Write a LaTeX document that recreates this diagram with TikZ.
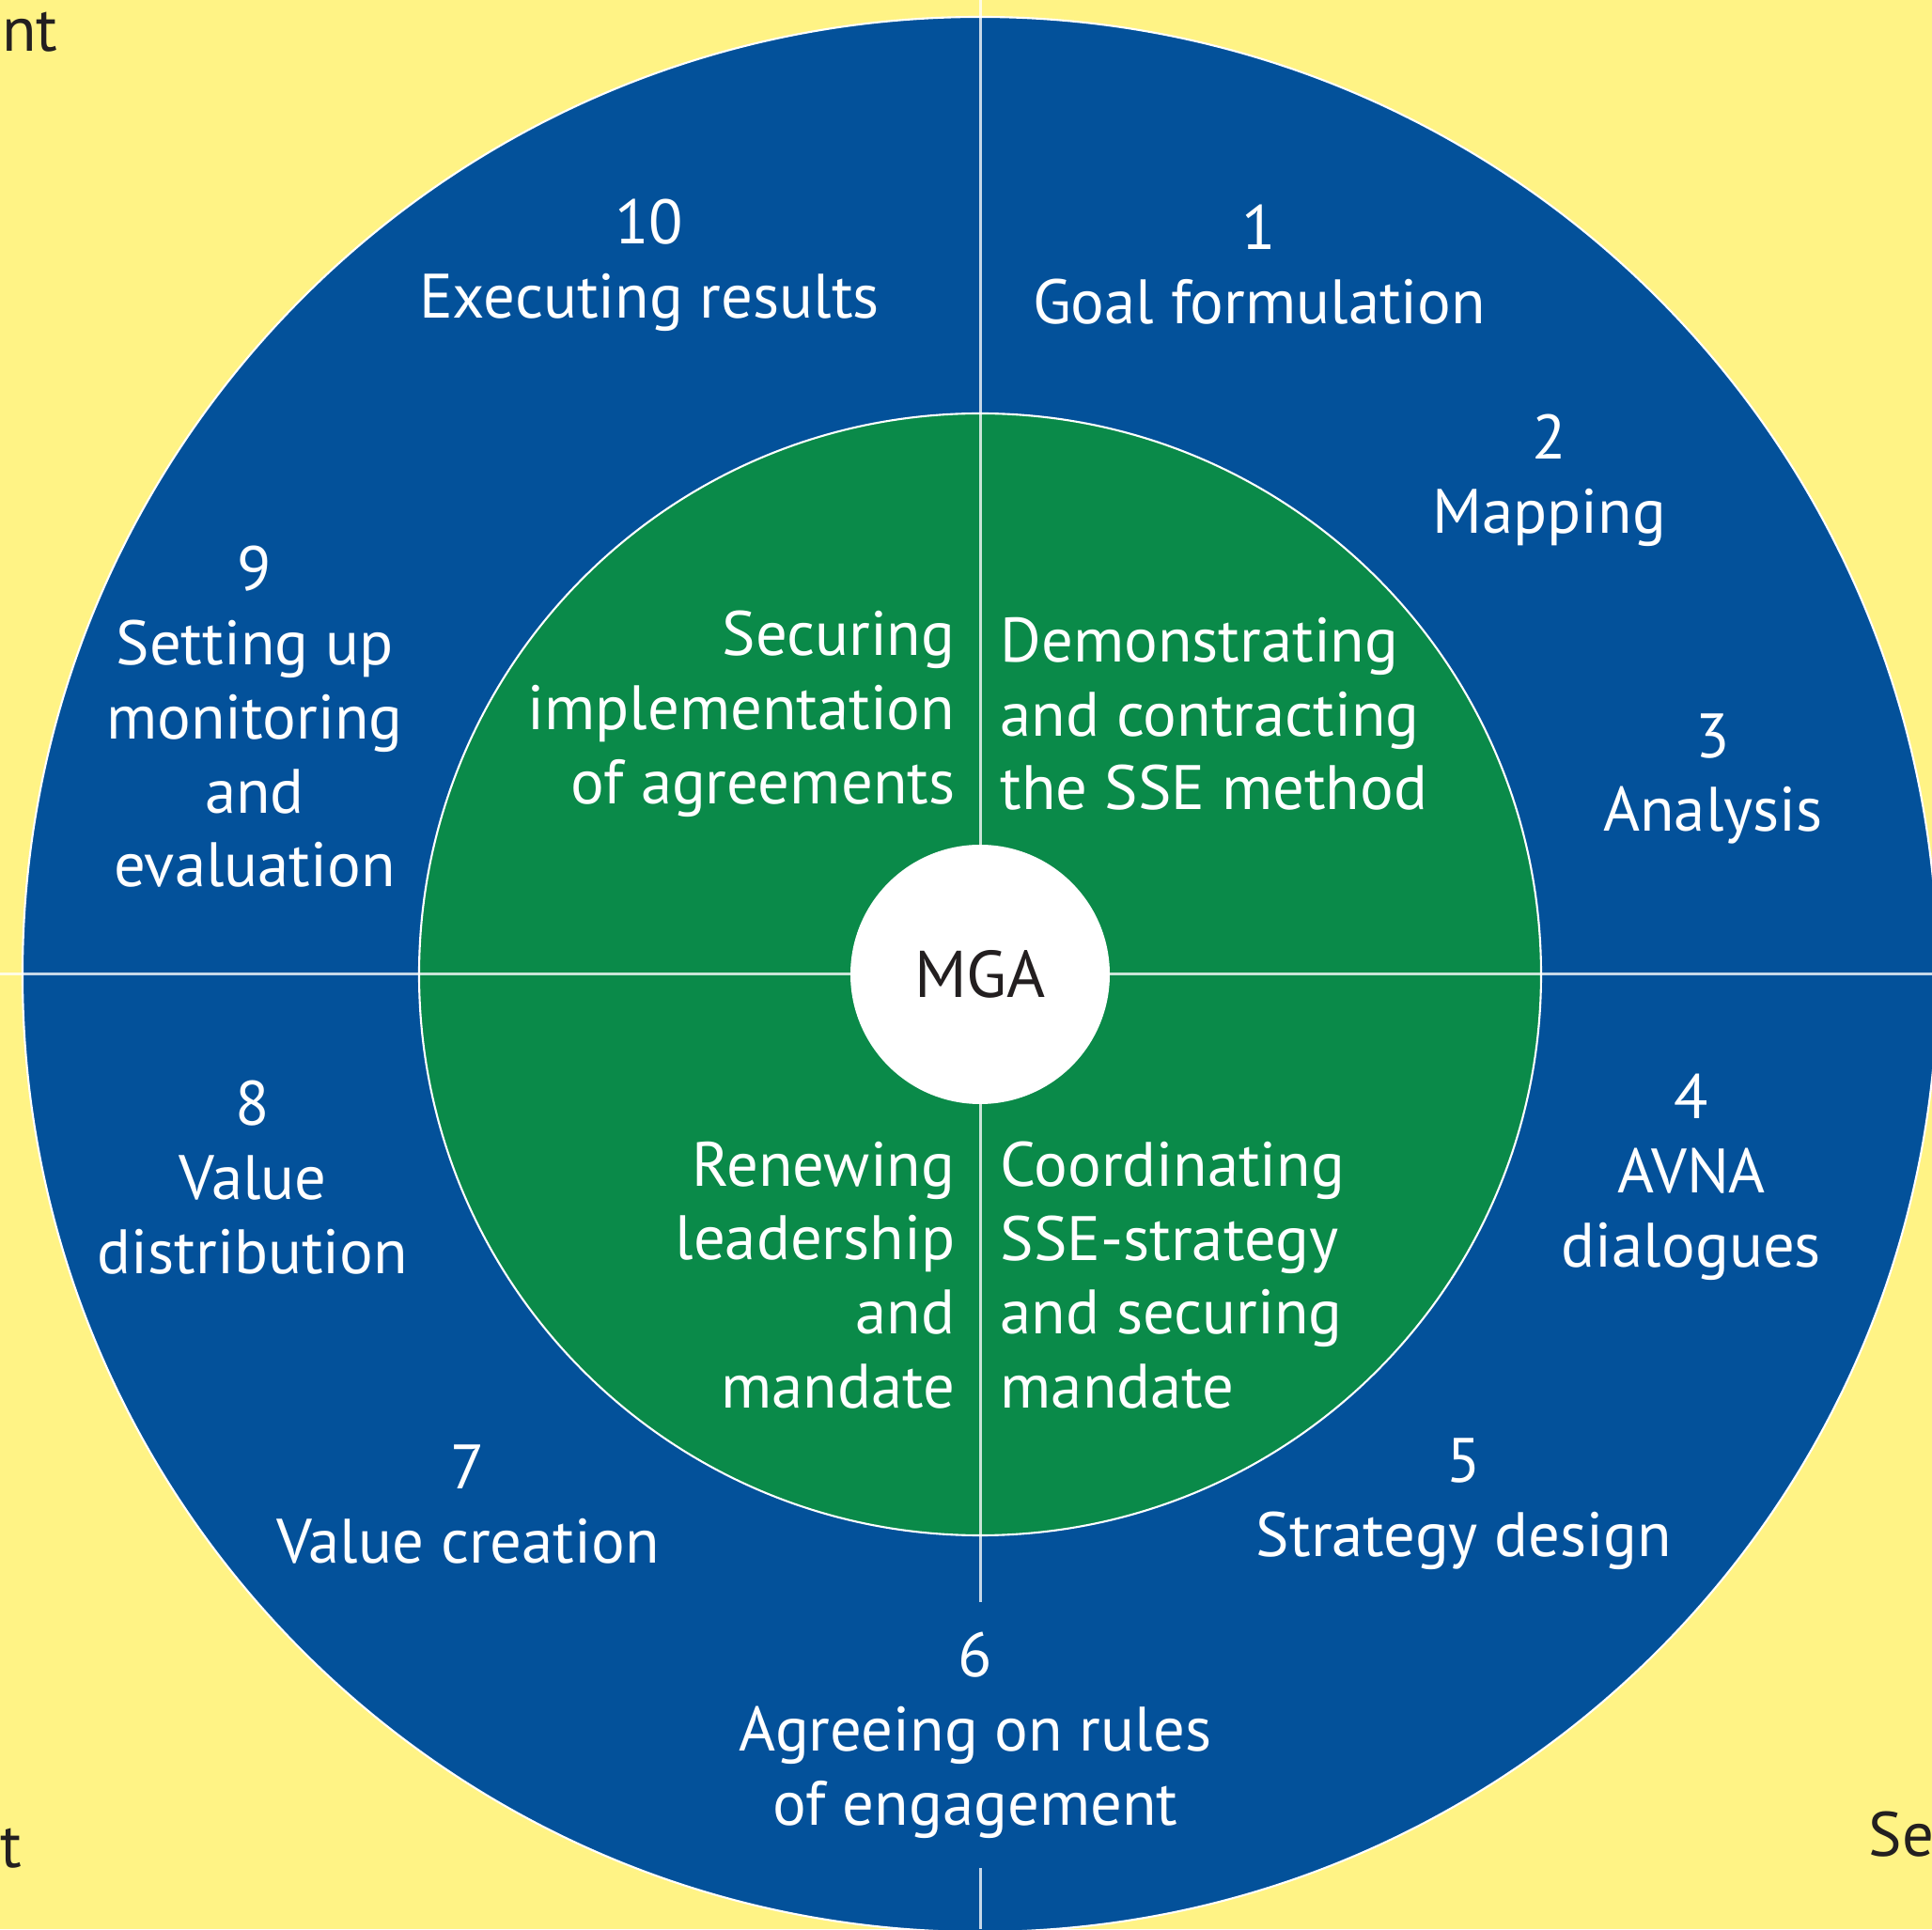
\documentclass[tikz,border=0pt]{standalone}
\usepackage{fontspec}
\setmainfont{PT Sans}
\usepackage{xcolor}
\usepackage{tikz}

\definecolor{bgyellow}{HTML}{FFF385}
\definecolor{ringblue}{HTML}{03519A}
\definecolor{coregreen}{HTML}{0A8A49}
\definecolor{inkgray}{HTML}{231F20}

\begin{document}
\begin{tikzpicture}[
    steplabel/.style={text=white, align=center, font=\fontsize{19}{22.4}\selectfont},
    phaseleft/.style={text=white, align=right, anchor=east, inner sep=0pt, font=\fontsize{19}{22.4}\selectfont},
    phaseright/.style={text=white, align=left, anchor=west, inner sep=0pt, font=\fontsize{19}{22.4}\selectfont},
    edgetext/.style={text=inkgray, inner sep=0pt, font=\fontsize{19}{22.4}\selectfont},
    divider/.style={draw=white, draw opacity=0.78, line width=0.03cm}
    ]

                % page and background
                \useasboundingbox (-10.43,-10.16) rectangle (10.13,10.37);
                \clip (-10.43,-10.16) rectangle (10.13,10.37);
                \fill[bgyellow] (-10.43,-10.16) rectangle (10.13,10.37);

                \node[edgetext, anchor=base east] (topleft) at (-9.81,9.82) {nt};
                \node[edgetext, anchor=base west] (bottomleft) at (-10.43,-9.50) {t};
                \node[edgetext, anchor=base west] (bottomright) at (9.45,-9.38) {Se};

                % rings
                \draw[
                    fill=ringblue,
                    draw=white,
                    line width=0.6pt
                    ] (0,0) circle (10.19);

                \draw[
                    fill=coregreen,
                    draw=white,
                    line width=0.6pt
                    ] (0,0) circle (5.97);

                % dividers
                \draw[divider] (0,10.37) -- (0,0);
                \draw[divider] (-10.43,0) -- (10.13,0);
                \draw[divider] (0,0) -- (0,-6.68);
                \draw[divider] (0,-9.51) -- (0,-10.16);

                % centre
                \node[
                    circle,
                    fill=white,
                    minimum size=2.76cm,
                    inner sep=0pt,
                    text=inkgray,
                    font=\fontsize{20}{24}\selectfont
                    ] (mga) at (0,0) {MGA};

                % outer steps
                \node[steplabel] (step1) at (2.97,7.55) {1\\Goal formulation};
                \node[steplabel] (step2) at (6.06,5.26) {2\\Mapping};
                \node[steplabel] (step3) at (7.80,2.08) {3\\Analysis};
                \node[steplabel] (step4) at (7.57,-2.16) {4\\AVNA\\dialogues};
                \node[steplabel] (step5) at (5.15,-5.64) {5\\Strategy design};
                \node[steplabel] (step6) at (-0.05,-8.10) {6\\Agreeing on rules\\of engagement};
                \node[steplabel] (step7) at (-5.45,-5.64) {7\\Value creation};
                \node[steplabel] (step8) at (-7.74,-2.16) {8\\Value\\distribution};
                \node[steplabel] (step9) at (-7.72,2.74) {9\\Setting up\\monitoring\\and\\evaluation};
                \node[steplabel] (step10) at (-3.52,7.55) {10\\Executing results};

                % inner phases
                \node[phaseleft] (securing) at (-0.26,2.77) {Securing\\implementation\\of agreements};
                \node[phaseright] (demonstrating) at (0.21,2.77) {Demonstrating\\and contracting\\the SSE method};
                \node[phaseleft] (renewing) at (-0.26,-3.20) {Renewing\\leadership\\and\\mandate};
                \node[phaseright] (coordinating) at (0.21,-3.20) {Coordinating\\SSE-strategy\\and securing\\mandate};

\end{tikzpicture}
\end{document}
